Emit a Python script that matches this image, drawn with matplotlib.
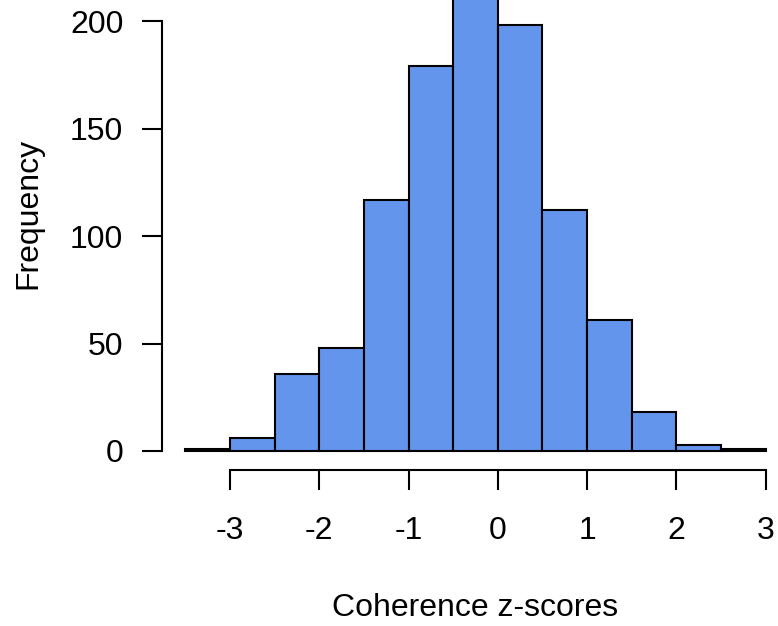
import numpy as np
import matplotlib
matplotlib.use('Agg')
import matplotlib.pyplot as plt

plt.rcParams['font.family'] = ['Liberation Sans', 'DejaVu Sans']

# histogram of coherence z-scores, bins of width 0.5
breaks = [-3.5, -3.0, -2.5, -2.0, -1.5, -1.0, -0.5, 0.0, 0.5, 1.0, 1.5, 2.0, 2.5, 3.0]
counts = [1, 6, 36, 48, 117, 179, 221, 198, 112, 61, 18, 3, 1]
xticks = [-3, -2, -1, 0, 1, 2, 3]
yticks = [0, 50, 100, 150, 200]

W, H = 778, 626
fig = plt.figure(figsize=(W / 100, H / 100), dpi=100)
# R-style plot region; it runs past the top and right edges of the picture
ax = fig.add_axes([162 / W, (H - 470) / H, 627 / W, 513 / H])

edges = np.array(breaks)
ax.bar(edges[:-1], counts, width=np.diff(edges), align='edge',
       color='#6495ED', edgecolor='black', linewidth=1.5)

M = max(counts)
ax.set_xlim(breaks[0] - 0.04 * (breaks[-1] - breaks[0]),
            breaks[-1] + 0.04 * (breaks[-1] - breaks[0]))
ax.set_ylim(-0.04 * M, 1.04 * M)

for s in ['top', 'right']:
    ax.spines[s].set_visible(False)
ax.spines['left'].set_bounds(0, 200)
ax.spines['bottom'].set_bounds(-3, 3)
for s in ['left', 'bottom']:
    ax.spines[s].set_linewidth(1.5)

ax.set_xticks(xticks)
ax.set_yticks(yticks)
ax.set_yticklabels([str(v) for v in yticks])
ax.set_xticklabels([str(v) for v in xticks])
ax.tick_params(direction='out', length=14.4, width=1.5, labelsize=23)
ax.tick_params(axis='y', pad=13.5)
ax.tick_params(axis='x', pad=18.5)

ax.set_xlabel('Coherence z-scores', fontsize=23, labelpad=34)
ax.set_ylabel('Frequency', fontsize=23, labelpad=19)

fig.savefig('out.png', dpi=100)
